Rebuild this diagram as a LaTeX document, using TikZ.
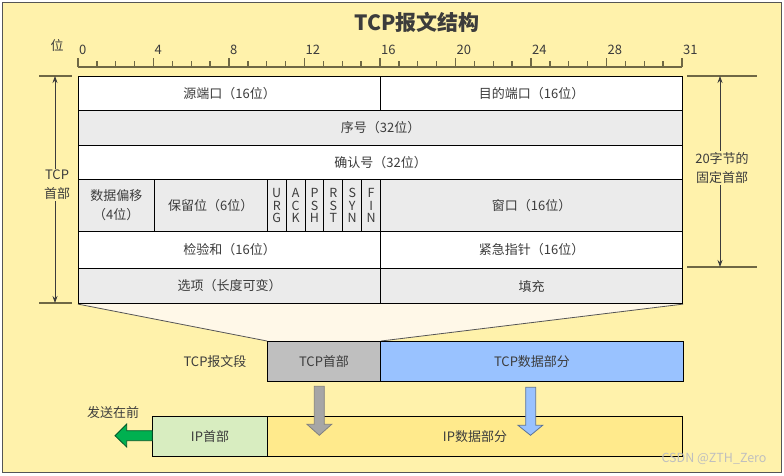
\documentclass[tikz,border=0pt]{standalone}
\usepackage{fontspec}
\setmainfont{Noto Sans CJK SC}
\usetikzlibrary{arrows.meta,backgrounds}
\definecolor{bgyellow}{HTML}{FFF2AB}
\definecolor{txt}{HTML}{3C3C3C}
\definecolor{rowgray}{HTML}{EBEBEB}
\definecolor{olive}{HTML}{6F6845}
\definecolor{cream}{HTML}{FFF8E8}
\definecolor{hdrgray}{HTML}{BFBFBF}
\definecolor{datablue}{HTML}{99C2FF}
\definecolor{ipgreen}{HTML}{D8EDC0}
\definecolor{ipyellow}{HTML}{FFEA8C}
\definecolor{arrgreen}{HTML}{00B050}
\definecolor{frame}{HTML}{555555}
\begin{document}
\begin{tikzpicture}[x=1pt,y=-1pt,
  every node/.style={font=\fontsize{13}{19}\selectfont, text=txt},
  cell/.style={draw=black, line width=1.1pt, anchor=north west, inner sep=0pt, align=center},
  segbox/.style={draw=black, line width=1pt, anchor=north west, inner sep=0pt},
  flagcell/.style={cell, fill=rowgray, minimum width=18.875pt, minimum height=52pt, font=\fontsize{12.5}{12.5}\selectfont},
  dimbar/.style={olive, line width=2pt},
  dimarrow/.style={{Stealth[length=7pt,width=5pt]}-{Stealth[length=7pt,width=5pt]}, draw=txt, line width=0.8pt},
  dimlabel/.style={fill=bgyellow, inner sep=1pt, align=center},
  tickline/.style={olive, line width=1.3pt}
]
\useasboundingbox (0,0) rectangle (784,475);

% title
\node[font=\fontsize{21}{24}\selectfont\bfseries] (title) at (417,22) {TCP报文结构};

% ruler
\node (bitlabel) at (57,45) {位};
\draw[olive, line width=2pt] (78,67) -- (682,67);
\foreach \i in {0,...,32} {\draw[tickline] (78+\i*18.875,67) -- (78+\i*18.875,61);}
\foreach \i in {0,4,...,32} {\draw[tickline] (78+\i*18.875,67) -- (78+\i*18.875,58);}
\foreach \i/\t in {0/0,4/4,8/8,12/12,16/16,20/20,24/24,28/28,32/31}
  {\node[anchor=west, inner sep=1pt, font=\fontsize{13}{14}\selectfont] (tick\i) at (78+\i*18.875,50) {\t};}

% table
\node[cell, fill=white, minimum width=302pt, minimum height=34pt] (srcport) at (78,76) {源端口（16位）};
\node[cell, fill=white, minimum width=302pt, minimum height=34pt] (dstport) at (380,76) {目的端口（16位）};
\node[cell, fill=rowgray, minimum width=604pt, minimum height=35pt] (seq) at (78,110) {序号（32位）};
\node[cell, fill=white, minimum width=604pt, minimum height=34pt] (ack) at (78,145) {确认号（32位）};
\node[cell, fill=rowgray, minimum width=75.5pt, minimum height=52pt] (offset) at (78,179) {数据偏移\\（4位）};
\node[cell, fill=rowgray, minimum width=113.25pt, minimum height=52pt] (resv) at (153.5,179) {保留位（6位）};
\foreach \i/\a/\b/\c in {0/U/R/G,1/A/C/K,2/P/S/H,3/R/S/T,4/S/Y/N,5/F/I/N}
  {\node[flagcell] (flag\i) at (266.75+\i*18.875,179) {\a\\\b\\\c};}
\node[cell, fill=rowgray, minimum width=302pt, minimum height=52pt] (window) at (380,179) {窗口（16位）};
\node[cell, fill=white, minimum width=302pt, minimum height=37pt] (checksum) at (78,231) {检验和（16位）};
\node[cell, fill=white, minimum width=302pt, minimum height=37pt] (urgent) at (380,231) {紧急指针（16位）};
\node[cell, fill=rowgray, minimum width=302pt, minimum height=35pt] (options) at (78,268) {选项（长度可变）};
\node[cell, fill=rowgray, minimum width=302pt, minimum height=35pt] (padding) at (380,268) {填充};

% left dimension
\coordinate (ltop) at (55,76);
\coordinate (lbot) at (55,303);
\draw[dimbar] (39,76) -- (72,76);
\draw[dimbar] (39,303) -- (72,303);
\draw[dimarrow] (ltop) -- (lbot);
\node[dimlabel] (hdrlabel) at (57,185) {TCP\\首部};

% right dimension
\coordinate (rtop) at (720,76);
\coordinate (rbot) at (720,267);
\draw[dimbar] (687,76) -- (757,76);
\draw[dimbar] (687,267) -- (757,267);
\draw[dimarrow] (rtop) -- (rbot);
\node[dimlabel] (fixlabel) at (722,168) {20字节的\\固定首部};

% TCP segment
\node[segbox, fill=hdrgray, minimum width=113pt, minimum height=40pt] (tcph) at (267,341) {TCP首部};
\node[segbox, fill=datablue, minimum width=303pt, minimum height=40pt] (tcpd) at (380,341) {TCP数据部分};
\node (seglabel) at (215,362) {TCP报文段};

% IP datagram
\node[segbox, fill=ipgreen, minimum width=114.4pt, minimum height=40pt] (iph) at (152.3,416.3) {IP首部};
\node[segbox, fill=ipyellow, minimum width=415.6pt, minimum height=40pt] (ipd) at (266.7,416.3) {IP数据部分};
\node (sendfirst) at (113,413) {发送在前};

% block arrows
\filldraw[fill=black!35, draw=black!50, line width=0.8pt]
  (314.3,386.3) -- (324.3,386.3) -- (324.3,424.3) -- (331.7,424.3) -- (319.3,435.3) -- (307,424.3) -- (314.3,424.3) -- cycle;
\filldraw[fill=datablue, draw=datablue!60!black, line width=0.8pt]
  (525.7,387.3) -- (535.7,387.3) -- (535.7,425.3) -- (542.7,425.3) -- (530.5,435.3) -- (518,425.3) -- (525.7,425.3) -- cycle;
\filldraw[fill=arrgreen, draw=arrgreen!50!black, line width=0.8pt]
  (iph.west |- 0,430.7) -- (126.7,430.7) -- (126.7,424) -- (115,435.7) -- (126.7,447) -- (126.7,440.7) -- (iph.west |- 0,440.7) -- cycle;

% watermark
\node[text=black!25, font=\fontsize{12.5}{14}\selectfont] (wm) at (714,459) {CSDN @ZTH\_Zero};

% background
\begin{scope}[on background layer]
  \fill[white] (0,0) rectangle (784,475);
  \filldraw[fill=bgyellow, draw=frame, line width=1pt] (2,2) rectangle (781,472);
  \fill[cream] (options.south west) -- (padding.south east) -- (tcph.north east) -- (tcph.north west) -- cycle;
  \draw[frame, line width=0.8pt] (options.south west) -- (tcph.north west);
  \draw[frame, line width=0.8pt] (padding.south east) -- (tcph.north east);
\end{scope}
\end{tikzpicture}
\end{document}
